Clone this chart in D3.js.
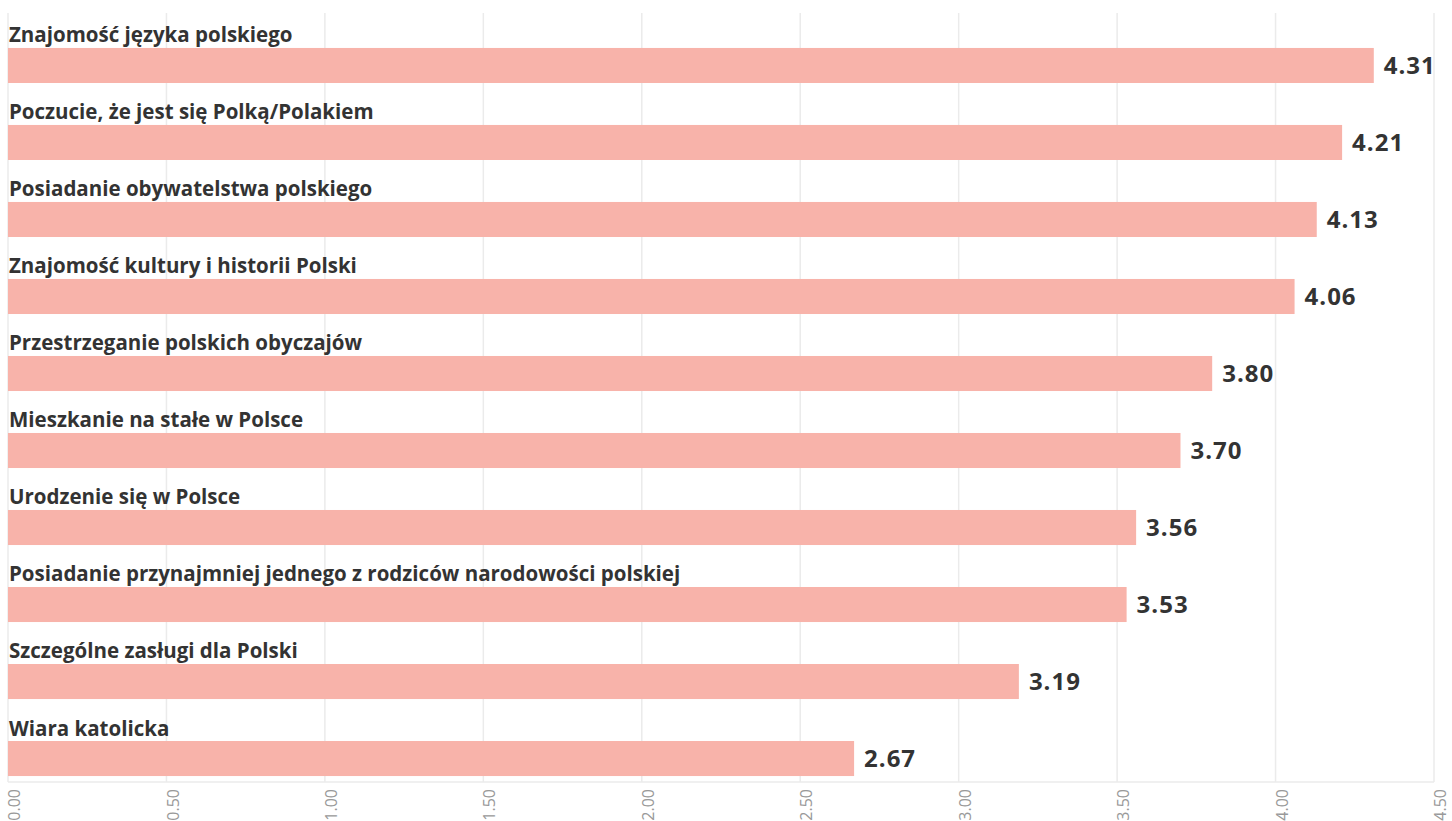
<!DOCTYPE html>
<html><head><meta charset="utf-8">
<script src="https://cdn.jsdelivr.net/npm/d3@7"></script>
<style>body{margin:0;background:#fff;}svg{display:block;}</style>
</head><body>
<script>
const categories = [
  "Znajomość języka polskiego",
  "Poczucie, że jest się Polką/Polakiem",
  "Posiadanie obywatelstwa polskiego",
  "Znajomość kultury i historii Polski",
  "Przestrzeganie polskich obyczajów",
  "Mieszkanie na stałe w Polsce",
  "Urodzenie się w Polsce",
  "Posiadanie przynajmniej jednego z rodziców narodowości polskiej",
  "Szczególne zasługi dla Polski",
  "Wiara katolicka"
];
const values = [4.31, 4.21, 4.13, 4.06, 3.80, 3.70, 3.56, 3.53, 3.19, 2.67];
const tickValues = [0, 0.5, 1, 1.5, 2, 2.5, 3, 3.5, 4, 4.5];

const W = 1452, H = 821;
const svg = d3.select("body").append("svg").attr("width", W).attr("height", H);
const x = d3.scaleLinear().domain([0, 4.5]).range([8, 1434]);
const y = d3.scaleBand().domain(categories).range([18.7, 805.3]).paddingInner(0.545).paddingOuter(0.38);

// Gridlines
svg.append("g").selectAll("line").data(tickValues).join("line")
  .attr("x1", d => x(d)).attr("x2", d => x(d))
  .attr("y1", 13).attr("y2", 782)
  .attr("stroke", "#ebebeb").attr("stroke-width", 1.5);
svg.append("line").attr("x1", x(0)).attr("x2", x(4.5)).attr("y1", 782).attr("y2", 782)
  .attr("stroke", "#ebebeb").attr("stroke-width", 1.5);

// Axis
const axis = d3.axisBottom(x).tickValues(tickValues).tickFormat(d3.format(".2f")).tickSize(0);
const ag = svg.append("g").attr("transform", "translate(0,782)").call(axis);
ag.select(".domain").remove();
ag.selectAll(".tick text")
  .attr("transform", "translate(6,0) rotate(-90)")
  .attr("text-anchor", "end")
  .attr("x", -7).attr("y", 0).attr("dy", "0.35em")
  .attr("fill", "#999").style("font-family", "'Open Sans', sans-serif").style("font-size", "16px");

// Bars
svg.append("g").selectAll("rect").data(values).join("rect")
  .attr("x", x(0)).attr("y", (d, i) => y(categories[i]))
  .attr("width", d => x(d) - x(0)).attr("height", y.bandwidth())
  .attr("fill", "#f8b3aa");

// Category labels
svg.append("g").selectAll("text").data(categories).join("text")
  .attr("x", x(0) + 1).attr("y", d => y(d) - 5.5)
  .text(d => d)
  .attr("fill", "#333").style("font-family", "'Open Sans', sans-serif")
  .style("font-weight", "bold").style("font-size", "20.5px");

// Value labels
svg.append("g").selectAll("text").data(values).join("text")
  .attr("x", d => x(d) + 10).attr("y", (d, i) => y(categories[i]) + y.bandwidth() / 2)
  .attr("dy", "0.36em")
  .text(d => d.toFixed(2))
  .attr("fill", "#333").style("font-family", "'Open Sans', sans-serif")
  .style("font-weight", "bold").style("font-size", "24px").style("letter-spacing", "1px");
</script>
</body></html>
